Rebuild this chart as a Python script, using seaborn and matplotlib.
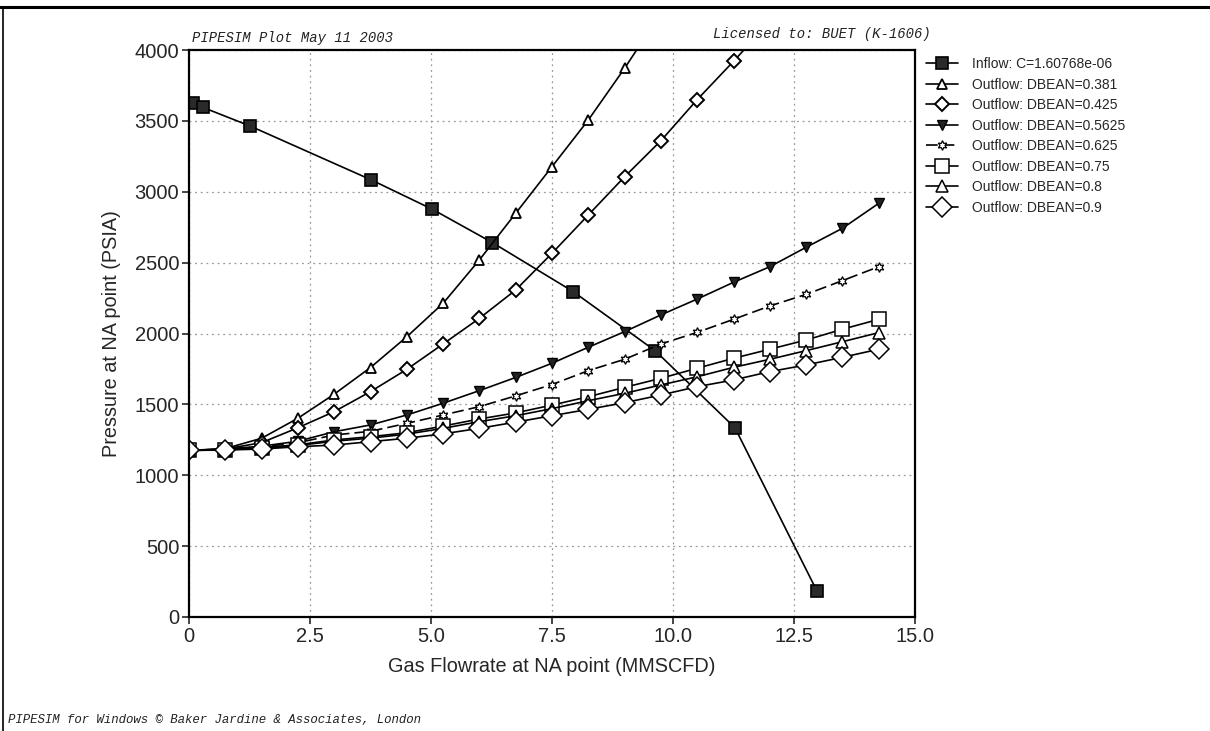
import matplotlib
matplotlib.use("Agg")
import matplotlib.pyplot as plt
import seaborn as sns
import pandas as pd
from matplotlib.lines import Line2D

# ---------------- data ----------------
q_inflow = [0.08, 0.28, 1.26, 3.77, 5.03, 6.27, 7.94, 9.63, 11.28, 12.97]
p_inflow = [3624, 3596, 3464, 3083, 2876, 2641, 2295, 1879, 1335, 186]

q_out = [0.0, 0.75, 1.5, 2.25, 3.0, 3.75, 4.5, 5.25, 6.0, 6.75,
         7.5, 8.25, 9.0, 9.75, 10.5, 11.25, 12.0, 12.75, 13.5, 14.25]

p_0381 = [1175, 1188, 1261, 1402, 1572, 1760, 1977, 2213, 2519, 2848,
          3177, 3506, 3871, 4260]
p_0425 = [1175, 1185, 1230, 1335, 1449, 1590, 1747, 1926, 2107, 2307,
          2566, 2836, 3106, 3360, 3650, 3920, 4200]
p_05625 = [1175, 1185, 1205, 1240, 1307, 1355, 1425, 1508, 1597, 1690,
           1790, 1903, 2013, 2131, 2243, 2361, 2471, 2608, 2742, 2918]
p_0625 = [1175, 1183, 1200, 1230, 1284, 1310, 1366, 1425, 1484, 1560,
          1640, 1738, 1818, 1926, 2008, 2100, 2194, 2276, 2373, 2471]
p_075 = [1175, 1180, 1195, 1215, 1249, 1272, 1300, 1347, 1397, 1440,
         1495, 1554, 1620, 1684, 1755, 1825, 1889, 1954, 2030, 2100]
p_08 = [1175, 1180, 1190, 1210, 1240, 1262, 1290, 1331, 1378, 1420,
        1470, 1526, 1578, 1637, 1695, 1761, 1818, 1879, 1942, 2006]
p_09 = [1175, 1178, 1185, 1201, 1213, 1237, 1261, 1292, 1331, 1375,
        1420, 1465, 1512, 1566, 1625, 1672, 1731, 1778, 1832, 1889]

labels = ["Inflow: C=1.60768e-06",
          "Outflow: DBEAN=0.381",
          "Outflow: DBEAN=0.425",
          "Outflow: DBEAN=0.5625",
          "Outflow: DBEAN=0.625",
          "Outflow: DBEAN=0.75",
          "Outflow: DBEAN=0.8",
          "Outflow: DBEAN=0.9"]

x_ticks = [0, 2.5, 5.0, 7.5, 10.0, 12.5, 15.0]
x_ticklabels = ["0", "2.5", "5.0", "7.5", "10.0", "12.5", "15.0"]
y_ticks = [0, 500, 1000, 1500, 2000, 2500, 3000, 3500, 4000]

# ---------------- style ----------------
sns.set_style("white")
plt.rcParams['font.family'] = ['Liberation Sans', 'DejaVu Sans']

fig = plt.figure(figsize=(12.10, 7.31), dpi=100)
ax = fig.add_axes([189/1210, 1-617/731, (915-189)/1210, (617-50)/731])

lw = 1.2
series = [
    (q_inflow, p_inflow, dict(marker='s', markersize=8, markerfacecolor='#2a2a2a',
                              markeredgecolor='black', markeredgewidth=1.2), None),
    (q_out[:len(p_0381)], p_0381, dict(marker='^', markersize=7, markerfacecolor='white',
                                      markeredgecolor='black', markeredgewidth=1.3), None),
    (q_out[:len(p_0425)], p_0425, dict(marker='D', markersize=7, markerfacecolor='white',
                                      markeredgecolor='black', markeredgewidth=1.4), None),
    (q_out, p_05625, dict(marker='v', markersize=7, markerfacecolor='#222222',
                          markeredgecolor='black', markeredgewidth=1.0), None),
    (q_out, p_0625, dict(marker=(6, 1, 0), markersize=7, markerfacecolor='white',
                         markeredgecolor='black', markeredgewidth=0.9), (7, 3)),
    (q_out, p_075, dict(marker='s', markersize=10, markerfacecolor='white',
                        markeredgecolor='black', markeredgewidth=1.1), None),
    (q_out, p_08, dict(marker='^', markersize=9, markerfacecolor='white',
                       markeredgecolor='black', markeredgewidth=1.1), None),
    (q_out, p_09, dict(marker='D', markersize=10, markerfacecolor='white',
                       markeredgecolor='black', markeredgewidth=1.1), None),
]

handles = []
for (xs, ys, mk, dash), lab in zip(series, labels):
    df = pd.DataFrame({"q": xs, "p": ys})
    sns.lineplot(data=df, x="q", y="p", ax=ax, color='black', linewidth=lw,
                 sort=False, estimator=None, **mk)
    line = ax.get_lines()[-1]
    if dash is not None:
        line.set_dashes(dash)
    h = Line2D([], [], color='black', linewidth=lw,
               linestyle=(0, dash) if dash is not None else '-', **mk)
    handles.append(h)

ax.set_xlim(0, 15)
ax.set_ylim(0, 4000)
ax.set_xticks(x_ticks)
ax.set_xticklabels(x_ticklabels)
ax.set_yticks(y_ticks)
ax.tick_params(axis='both', which='major', labelsize=14.5, length=5, width=1.2,
               direction='out', bottom=True, left=True, top=False, right=False, pad=2)
ax.grid(True, linestyle=(0, (1.5, 3)), color='#999999', linewidth=0.9)
for sp in ax.spines.values():
    sp.set_visible(True)
    sp.set_color('black')
    sp.set_linewidth(1.6)

ax.set_xlabel("Gas Flowrate at NA point (MMSCFD)", fontsize=14.3, labelpad=8)
ax.set_ylabel("Pressure at NA point (PSIA)", fontsize=14.3, labelpad=10)

leg = fig.legend(handles=handles, labels=labels, loc='upper left',
                 bbox_to_anchor=(926/1210, 1-57/731), frameon=False,
                 fontsize=10, handlelength=2.3, handletextpad=1.0,
                 labelspacing=0.47, borderpad=0, borderaxespad=0)

mono = ['Liberation Mono', 'DejaVu Sans Mono']
fig.text(192/1210, 1-38/731, "PIPESIM Plot May 11 2003", family=mono,
         style='italic', fontsize=10, ha='left', va='center', color='#222222')
fig.text(931/1210, 1-34/731, "Licensed to: BUET (K-1606)", family=mono,
         style='italic', fontsize=10, ha='right', va='center', color='#222222')
fig.text(8/1210, 1-720/731,
         "PIPESIM for Windows \u00a9 Baker Jardine & Associates, London",
         family=mono, style='italic', fontsize=8.9, ha='left', va='center',
         color='#222222')

# page frame lines
fig.add_artist(Line2D([0, 1], [1-7/731, 1-7/731], transform=fig.transFigure,
                      color='black', linewidth=2.2))
fig.add_artist(Line2D([3/1210, 3/1210], [0, 1-7/731], transform=fig.transFigure,
                      color='black', linewidth=1.2))

fig.savefig("out.png", dpi=100)
